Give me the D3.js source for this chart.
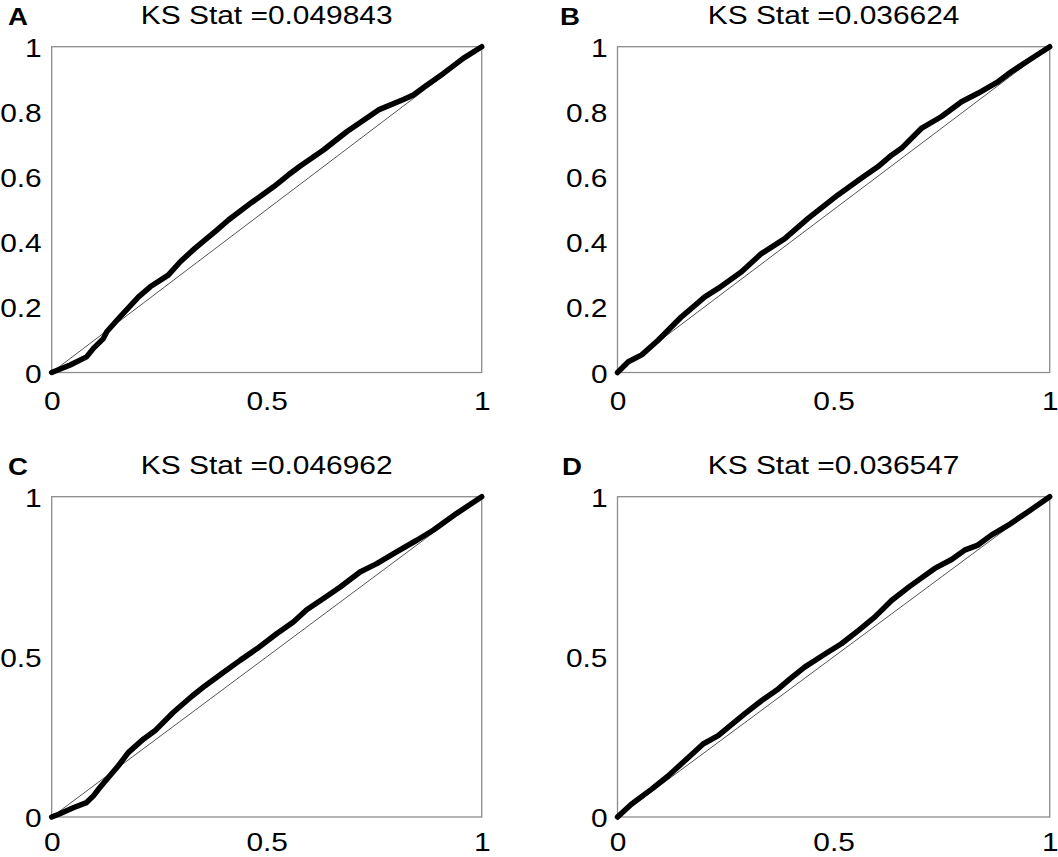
<!DOCTYPE html>
<html>
<head>
<meta charset="utf-8">
<script src="https://cdn.jsdelivr.net/npm/d3@7"></script>
<style>
  html, body { margin: 0; padding: 0; background: #fff; }
  svg { display: block; }
  text { font-family: "Liberation Sans", Arial, Helvetica, sans-serif; fill: #000; }
</style>
</head>
<body>
<svg id="chart" width="1058" height="857"></svg>
<script>
// ---------------- data ----------------
const panelLetters = ["A", "B", "C", "D"];
const ksStats = ["0.049843", "0.036624", "0.046962", "0.036547"];
const yTicksTop = [0, 0.2, 0.4, 0.6, 0.8, 1];
const yTicksBottom = [0, 0.5, 1];
const xTicks = [0, 0.5, 1];

const curveA_x = [0, 0.043, 0.081, 0.097, 0.12, 0.128, 0.159, 0.202, 0.229, 0.271, 0.299, 0.333, 0.384, 0.411, 0.465, 0.516, 0.55, 0.578, 0.632, 0.686, 0.76, 0.818, 0.841, 0.872, 0.911, 0.957, 1];
const curveA_y = [0, 0.023, 0.048, 0.074, 0.104, 0.125, 0.171, 0.232, 0.263, 0.299, 0.34, 0.381, 0.437, 0.468, 0.522, 0.57, 0.606, 0.634, 0.683, 0.739, 0.806, 0.838, 0.852, 0.882, 0.918, 0.964, 1];

const curveB_x = [0, 0.025, 0.056, 0.094, 0.148, 0.202, 0.233, 0.287, 0.333, 0.387, 0.441, 0.51, 0.564, 0.603, 0.634, 0.657, 0.703, 0.749, 0.796, 0.834, 0.881, 0.911, 0.958, 1];
const curveB_y = [0, 0.033, 0.054, 0.099, 0.171, 0.232, 0.258, 0.309, 0.365, 0.411, 0.473, 0.545, 0.596, 0.632, 0.667, 0.688, 0.749, 0.785, 0.831, 0.857, 0.893, 0.923, 0.964, 1];

const curveC_x = [0, 0.019, 0.05, 0.081, 0.097, 0.112, 0.155, 0.178, 0.213, 0.24, 0.283, 0.326, 0.357, 0.395, 0.438, 0.477, 0.523, 0.562, 0.593, 0.632, 0.671, 0.717, 0.756, 0.802, 0.849, 0.888, 0.942, 1];
const curveC_y = [0, 0.01, 0.029, 0.045, 0.066, 0.092, 0.16, 0.201, 0.243, 0.269, 0.327, 0.377, 0.41, 0.447, 0.489, 0.525, 0.572, 0.609, 0.647, 0.682, 0.718, 0.765, 0.791, 0.828, 0.864, 0.896, 0.948, 1];

const curveD_x = [0, 0.032, 0.079, 0.117, 0.164, 0.198, 0.233, 0.275, 0.294, 0.333, 0.372, 0.399, 0.433, 0.48, 0.518, 0.557, 0.595, 0.634, 0.676, 0.734, 0.773, 0.803, 0.834, 0.865, 0.904, 0.95, 1];
const curveD_y = [0, 0.04, 0.087, 0.128, 0.186, 0.228, 0.254, 0.301, 0.322, 0.363, 0.4, 0.431, 0.468, 0.509, 0.541, 0.582, 0.624, 0.676, 0.72, 0.776, 0.804, 0.833, 0.849, 0.88, 0.911, 0.953, 1];

const curvesX = [curveA_x, curveB_x, curveC_x, curveD_x];
const curvesY = [curveA_y, curveB_y, curveC_y, curveD_y];

// ---------------- layout ----------------
const panels = [
  { x0: 51.7, x1: 481.7, y0: 46.7, y1: 372.5, letterX: 8, yTicks: yTicksTop, xLab: 37.5 },
  { x0: 617.5, x1: 1049.7, y0: 46.7, y1: 372.5, letterX: 560, yTicks: yTicksTop, xLab: 37.5 },
  { x0: 51.7, x1: 481.7, y0: 496.7, y1: 817, letterX: 8, yTicks: yTicksBottom, xLab: 34 },
  { x0: 617.5, x1: 1049.7, y0: 496.7, y1: 817, letterX: 562, yTicks: yTicksBottom, xLab: 34 }
];
const SX = 1.15;     // horizontal stretch of the original figure's text
const FS = 26;

const svg = d3.select("#chart");

function stretchedText(g, x, y, str, anchor, size, weight) {
  return g.append("text")
    .attr("transform", `translate(${x},${y}) scale(${SX},1)`)
    .attr("text-anchor", anchor)
    .style("font-size", size + "px")
    .style("font-weight", weight || "normal")
    .text(str);
}

panels.forEach((p, i) => {
  const g = svg.append("g");
  const x = d3.scaleLinear().domain([0, 1]).range([p.x0, p.x1]);
  const y = d3.scaleLinear().domain([0, 1]).range([p.y1, p.y0]);

  // frame
  g.append("rect")
    .attr("x", x(0)).attr("y", y(1))
    .attr("width", x(1) - x(0)).attr("height", y(0) - y(1))
    .attr("fill", "none").attr("stroke", "#8c8c8c").attr("stroke-width", 1.3);

  // axes (labels only) built via d3 scales
  const yAxis = d3.axisLeft(y).tickValues(p.yTicks).tickSize(0).tickFormat(d3.format("~g"));
  const ya = g.append("g").attr("transform", `translate(${x(0)},0)`).call(yAxis);
  ya.select(".domain").remove();
  ya.selectAll(".tick text").remove();
  ya.selectAll(".tick").each(function (d) {
    stretchedText(d3.select(this), -10, 9.5, d3.format("~g")(d), "end", FS);
  });

  const xAxis = d3.axisBottom(x).tickValues(xTicks).tickSize(0);
  const xa = g.append("g").attr("transform", `translate(0,${y(0)})`).call(xAxis);
  xa.select(".domain").remove();
  xa.selectAll(".tick text").remove();
  xa.selectAll(".tick").each(function (d) {
    stretchedText(d3.select(this), 0, p.xLab, d3.format("~g")(d), "middle", FS);
  });

  // diagonal reference line
  g.append("line")
    .attr("x1", x(0)).attr("y1", y(0)).attr("x2", x(1)).attr("y2", y(1))
    .attr("stroke", "#555").attr("stroke-width", 1);

  // empirical curve
  const pts = curvesX[i].map((v, k) => [v, curvesY[i][k]]);
  g.append("path")
    .datum(pts)
    .attr("d", d3.line().x(d => x(d[0])).y(d => y(d[1])))
    .attr("fill", "none").attr("stroke", "#000")
    .attr("stroke-width", 5.5).attr("stroke-linejoin", "round").attr("stroke-linecap", "round");

  // title & letter
  stretchedText(g, (p.x0 + p.x1) / 2, p.y0 - 23, "KS Stat =" + ksStats[i], "middle", FS);
  stretchedText(g, p.letterX, p.y0 - 22, panelLetters[i], "start", 24, "bold");
});
</script>
</body>
</html>
